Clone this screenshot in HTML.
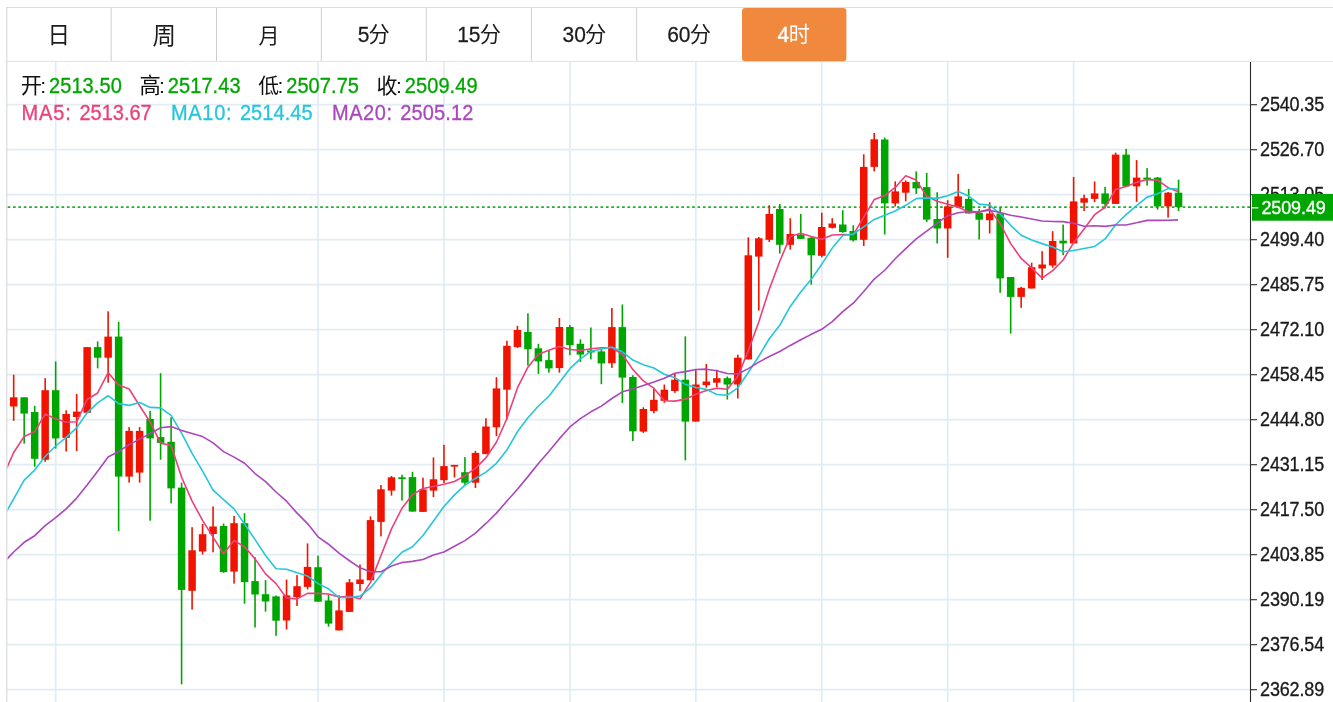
<!DOCTYPE html>
<html lang="zh"><head><meta charset="utf-8"><title>K线图</title>
<style>
html,body{margin:0;padding:0;background:#fff}
body{width:1333px;height:702px;overflow:hidden;position:relative;font-family:"Liberation Sans",sans-serif}
svg{position:absolute;left:0;top:0}
.ly{position:absolute;left:0;top:0;width:1333px;height:702px;will-change:transform}
.t{position:absolute;line-height:1;white-space:nowrap;font-family:"Liberation Sans",sans-serif}
</style></head><body>
<svg width="1333" height="702" viewBox="0 0 1333 702">
<g stroke="#e2ecf3" stroke-width="1.7" fill="none">
<line x1="7" y1="104.6" x2="1250.5" y2="104.6"/>
<line x1="7" y1="149.6" x2="1250.5" y2="149.6"/>
<line x1="7" y1="194.6" x2="1250.5" y2="194.6"/>
<line x1="7" y1="239.6" x2="1250.5" y2="239.6"/>
<line x1="7" y1="284.6" x2="1250.5" y2="284.6"/>
<line x1="7" y1="329.6" x2="1250.5" y2="329.6"/>
<line x1="7" y1="374.6" x2="1250.5" y2="374.6"/>
<line x1="7" y1="419.6" x2="1250.5" y2="419.6"/>
<line x1="7" y1="464.6" x2="1250.5" y2="464.6"/>
<line x1="7" y1="509.6" x2="1250.5" y2="509.6"/>
<line x1="7" y1="554.6" x2="1250.5" y2="554.6"/>
<line x1="7" y1="599.6" x2="1250.5" y2="599.6"/>
<line x1="7" y1="644.6" x2="1250.5" y2="644.6"/>
<line x1="7" y1="689.6" x2="1250.5" y2="689.6"/>
<line x1="55.66" y1="61.5" x2="55.66" y2="702"/>
<line x1="318.02" y1="61.5" x2="318.02" y2="702"/>
<line x1="443.95" y1="61.5" x2="443.95" y2="702"/>
<line x1="569.89" y1="61.5" x2="569.89" y2="702"/>
<line x1="695.82" y1="61.5" x2="695.82" y2="702"/>
<line x1="821.76" y1="61.5" x2="821.76" y2="702"/>
<line x1="947.69" y1="61.5" x2="947.69" y2="702"/>
<line x1="1073.62" y1="61.5" x2="1073.62" y2="702"/>
</g>
<line x1="7.6" y1="207.1" x2="1250.5" y2="207.1" stroke="#1db128" stroke-width="1.7" stroke-dasharray="2.7 2.69"/>
<g fill="#f01400">
<rect x="12.88" y="374.7" width="1.6" height="46.1"/>
<rect x="9.93" y="397.3" width="7.5" height="9.2"/>
<rect x="44.36" y="378.2" width="1.6" height="83.6"/>
<rect x="41.41" y="390.2" width="7.5" height="69.6"/>
<rect x="65.35" y="410.3" width="1.6" height="41.2"/>
<rect x="62.4" y="414" width="7.5" height="23.9"/>
<rect x="75.85" y="394" width="1.6" height="57"/>
<rect x="72.9" y="411.6" width="7.5" height="5.4"/>
<rect x="86.34" y="347.1" width="1.6" height="65.7"/>
<rect x="83.39" y="347.1" width="7.5" height="65.7"/>
<rect x="107.33" y="311.3" width="1.6" height="71.4"/>
<rect x="104.38" y="336.6" width="7.5" height="21.1"/>
<rect x="128.32" y="427.1" width="1.6" height="55.5"/>
<rect x="125.37" y="430.9" width="7.5" height="45.7"/>
<rect x="138.81" y="427.1" width="1.6" height="55.5"/>
<rect x="135.86" y="430.9" width="7.5" height="41.7"/>
<rect x="191.29" y="527.2" width="1.6" height="82.4"/>
<rect x="188.34" y="550.3" width="7.5" height="40.5"/>
<rect x="201.78" y="524" width="1.6" height="30.5"/>
<rect x="198.83" y="534.2" width="7.5" height="17.3"/>
<rect x="212.28" y="506.4" width="1.6" height="45.9"/>
<rect x="209.33" y="526.5" width="7.5" height="7.5"/>
<rect x="233.26" y="515.9" width="1.6" height="67.7"/>
<rect x="230.31" y="523.2" width="7.5" height="48.4"/>
<rect x="285.74" y="579.5" width="1.6" height="50"/>
<rect x="282.79" y="595.4" width="7.5" height="25.1"/>
<rect x="296.23" y="575.1" width="1.6" height="30.9"/>
<rect x="293.28" y="586.2" width="7.5" height="10.8"/>
<rect x="306.73" y="543.4" width="1.6" height="46"/>
<rect x="303.78" y="566.9" width="7.5" height="20"/>
<rect x="338.21" y="595.3" width="1.6" height="35.1"/>
<rect x="335.26" y="610.4" width="7.5" height="20"/>
<rect x="348.7" y="579" width="1.6" height="32.9"/>
<rect x="345.75" y="582.3" width="7.5" height="29.6"/>
<rect x="359.2" y="564.5" width="1.6" height="26.6"/>
<rect x="356.25" y="579.5" width="7.5" height="4.5"/>
<rect x="369.69" y="516.4" width="1.6" height="63.9"/>
<rect x="366.74" y="520.1" width="7.5" height="60.2"/>
<rect x="380.19" y="485" width="1.6" height="51.4"/>
<rect x="377.24" y="489.3" width="7.5" height="32.6"/>
<rect x="390.68" y="476" width="1.6" height="19.6"/>
<rect x="387.73" y="477.3" width="7.5" height="13.3"/>
<rect x="422.17" y="477.7" width="1.6" height="34.2"/>
<rect x="419.22" y="489.4" width="7.5" height="22.5"/>
<rect x="432.66" y="457.4" width="1.6" height="39.7"/>
<rect x="429.71" y="479.3" width="7.5" height="11.3"/>
<rect x="443.15" y="444.8" width="1.6" height="38.2"/>
<rect x="440.2" y="466.1" width="7.5" height="14.1"/>
<rect x="453.65" y="464.9" width="1.6" height="12.5"/>
<rect x="450.7" y="464.9" width="7.5" height="1.7"/>
<rect x="474.64" y="450.9" width="1.6" height="37.1"/>
<rect x="471.69" y="452.9" width="7.5" height="29.8"/>
<rect x="485.13" y="418.3" width="1.6" height="35.8"/>
<rect x="482.18" y="426.5" width="7.5" height="27.6"/>
<rect x="495.63" y="377.2" width="1.6" height="58.9"/>
<rect x="492.68" y="388.4" width="7.5" height="38.9"/>
<rect x="506.12" y="340.8" width="1.6" height="78.7"/>
<rect x="503.17" y="345.8" width="7.5" height="43.9"/>
<rect x="516.62" y="325.8" width="1.6" height="22.2"/>
<rect x="513.67" y="330" width="7.5" height="17.1"/>
<rect x="558.59" y="318" width="1.6" height="54.7"/>
<rect x="555.64" y="327" width="7.5" height="41.1"/>
<rect x="611.07" y="308" width="1.6" height="59.9"/>
<rect x="608.12" y="327.1" width="7.5" height="36.1"/>
<rect x="642.55" y="407.3" width="1.6" height="25.6"/>
<rect x="639.6" y="409" width="7.5" height="22.6"/>
<rect x="653.04" y="389" width="1.6" height="24.3"/>
<rect x="650.09" y="399.8" width="7.5" height="11.2"/>
<rect x="663.54" y="384.5" width="1.6" height="18.3"/>
<rect x="660.59" y="389.7" width="7.5" height="11.1"/>
<rect x="674.03" y="374" width="1.6" height="18.8"/>
<rect x="671.08" y="379.7" width="7.5" height="11.3"/>
<rect x="695.02" y="370.2" width="1.6" height="51.4"/>
<rect x="692.07" y="384.5" width="7.5" height="37.1"/>
<rect x="705.52" y="363.9" width="1.6" height="23.8"/>
<rect x="702.57" y="381.5" width="7.5" height="3.7"/>
<rect x="716.01" y="369.7" width="1.6" height="17.5"/>
<rect x="713.06" y="378.2" width="7.5" height="4.5"/>
<rect x="737" y="354.7" width="1.6" height="43.8"/>
<rect x="734.05" y="357.7" width="7.5" height="26.8"/>
<rect x="747.5" y="237.3" width="1.6" height="122.1"/>
<rect x="744.54" y="255.3" width="7.5" height="104.1"/>
<rect x="757.99" y="237" width="1.6" height="73.6"/>
<rect x="755.04" y="238.3" width="7.5" height="18.3"/>
<rect x="768.48" y="205.2" width="1.6" height="36.8"/>
<rect x="765.53" y="214" width="7.5" height="25.8"/>
<rect x="789.47" y="218.2" width="1.6" height="31.4"/>
<rect x="786.52" y="234" width="7.5" height="10.8"/>
<rect x="820.96" y="212.7" width="1.6" height="44.6"/>
<rect x="818.01" y="227" width="7.5" height="28.8"/>
<rect x="831.45" y="218.2" width="1.6" height="10.3"/>
<rect x="828.5" y="223.5" width="7.5" height="4.3"/>
<rect x="862.93" y="154.3" width="1.6" height="91.7"/>
<rect x="859.98" y="166.9" width="7.5" height="72.9"/>
<rect x="873.43" y="133" width="1.6" height="38.4"/>
<rect x="870.48" y="139.3" width="7.5" height="27.6"/>
<rect x="894.42" y="181.4" width="1.6" height="25.1"/>
<rect x="891.47" y="191.4" width="7.5" height="12"/>
<rect x="904.91" y="180.4" width="1.6" height="21"/>
<rect x="901.96" y="182" width="7.5" height="10.7"/>
<rect x="946.89" y="200.2" width="1.6" height="57.6"/>
<rect x="943.94" y="206.4" width="7.5" height="22.1"/>
<rect x="957.38" y="173.9" width="1.6" height="34.3"/>
<rect x="954.43" y="196.4" width="7.5" height="10.8"/>
<rect x="988.87" y="202.2" width="1.6" height="31.3"/>
<rect x="985.92" y="213.5" width="7.5" height="6.7"/>
<rect x="1020.35" y="286.8" width="1.6" height="21"/>
<rect x="1017.4" y="287.8" width="7.5" height="9.1"/>
<rect x="1030.85" y="262.7" width="1.6" height="25.8"/>
<rect x="1027.9" y="267.2" width="7.5" height="21.3"/>
<rect x="1041.34" y="251.2" width="1.6" height="28.8"/>
<rect x="1038.39" y="264.5" width="7.5" height="4"/>
<rect x="1051.84" y="231.2" width="1.6" height="36.5"/>
<rect x="1048.89" y="241" width="7.5" height="24.5"/>
<rect x="1072.82" y="176.9" width="1.6" height="66.6"/>
<rect x="1069.87" y="201.4" width="7.5" height="42.1"/>
<rect x="1083.32" y="194.7" width="1.6" height="16.3"/>
<rect x="1080.37" y="198.2" width="7.5" height="4.5"/>
<rect x="1093.81" y="181.4" width="1.6" height="20.8"/>
<rect x="1090.86" y="193.4" width="7.5" height="5.5"/>
<rect x="1114.8" y="152.6" width="1.6" height="51.3"/>
<rect x="1111.85" y="154.6" width="7.5" height="49.3"/>
<rect x="1135.79" y="160.1" width="1.6" height="41.8"/>
<rect x="1132.84" y="177.6" width="7.5" height="8.8"/>
<rect x="1167.28" y="192" width="1.6" height="25.7"/>
<rect x="1164.33" y="192.7" width="7.5" height="13.7"/>
</g>
<g fill="#00a600">
<rect x="23.37" y="397.3" width="1.6" height="46.3"/>
<rect x="20.42" y="397.3" width="7.5" height="16.3"/>
<rect x="33.87" y="405.8" width="1.6" height="61"/>
<rect x="30.92" y="412" width="7.5" height="46.8"/>
<rect x="54.86" y="361.4" width="1.6" height="87.2"/>
<rect x="51.91" y="390.2" width="7.5" height="48.2"/>
<rect x="96.84" y="341.4" width="1.6" height="27"/>
<rect x="93.89" y="347.1" width="7.5" height="10.6"/>
<rect x="117.83" y="321.8" width="1.6" height="209.2"/>
<rect x="114.88" y="336.6" width="7.5" height="140"/>
<rect x="149.31" y="411" width="1.6" height="109.7"/>
<rect x="146.36" y="419" width="7.5" height="19.4"/>
<rect x="159.8" y="373.2" width="1.6" height="86.5"/>
<rect x="156.85" y="437.1" width="7.5" height="5.8"/>
<rect x="170.3" y="417.3" width="1.6" height="86.1"/>
<rect x="167.35" y="441.8" width="7.5" height="46.6"/>
<rect x="180.79" y="482.6" width="1.6" height="201.8"/>
<rect x="177.84" y="487.6" width="7.5" height="102.3"/>
<rect x="222.77" y="523.5" width="1.6" height="49.3"/>
<rect x="219.82" y="526" width="7.5" height="46.1"/>
<rect x="243.76" y="513.2" width="1.6" height="90.5"/>
<rect x="240.81" y="523.2" width="7.5" height="58.9"/>
<rect x="254.25" y="557.2" width="1.6" height="70.3"/>
<rect x="251.3" y="581.1" width="7.5" height="13.4"/>
<rect x="264.75" y="580.1" width="1.6" height="31.5"/>
<rect x="261.8" y="594.2" width="7.5" height="7.3"/>
<rect x="275.24" y="595.5" width="1.6" height="40.3"/>
<rect x="272.29" y="596.4" width="7.5" height="24.3"/>
<rect x="317.22" y="555.6" width="1.6" height="46.1"/>
<rect x="314.27" y="567.2" width="7.5" height="34.5"/>
<rect x="327.72" y="594.9" width="1.6" height="31.8"/>
<rect x="324.77" y="600.5" width="7.5" height="23.1"/>
<rect x="401.18" y="474.7" width="1.6" height="25.9"/>
<rect x="398.23" y="477.3" width="7.5" height="1.7"/>
<rect x="411.67" y="471.8" width="1.6" height="39.8"/>
<rect x="408.72" y="477.1" width="7.5" height="34.5"/>
<rect x="464.14" y="457.1" width="1.6" height="27.9"/>
<rect x="461.19" y="472.2" width="7.5" height="10.5"/>
<rect x="527.11" y="313.3" width="1.6" height="52.3"/>
<rect x="524.16" y="332" width="7.5" height="17.3"/>
<rect x="537.61" y="343.8" width="1.6" height="30.1"/>
<rect x="534.65" y="348.3" width="7.5" height="13.1"/>
<rect x="548.1" y="350.1" width="1.6" height="22.6"/>
<rect x="545.15" y="360.1" width="7.5" height="8.3"/>
<rect x="569.09" y="325" width="1.6" height="30.1"/>
<rect x="566.14" y="327" width="7.5" height="18.1"/>
<rect x="579.58" y="339.3" width="1.6" height="22.6"/>
<rect x="576.63" y="343.8" width="7.5" height="10.8"/>
<rect x="590.08" y="327.5" width="1.6" height="31.9"/>
<rect x="587.13" y="350.5" width="7.5" height="2"/>
<rect x="600.57" y="348.8" width="1.6" height="35.4"/>
<rect x="597.62" y="351.4" width="7.5" height="12"/>
<rect x="621.56" y="304.5" width="1.6" height="98.5"/>
<rect x="618.61" y="327.1" width="7.5" height="50.5"/>
<rect x="632.06" y="375.2" width="1.6" height="65.9"/>
<rect x="629.11" y="377" width="7.5" height="54.3"/>
<rect x="684.53" y="336.4" width="1.6" height="124"/>
<rect x="681.58" y="379.7" width="7.5" height="41.9"/>
<rect x="726.51" y="376.5" width="1.6" height="23"/>
<rect x="723.56" y="378.2" width="7.5" height="6.3"/>
<rect x="778.98" y="204" width="1.6" height="49.6"/>
<rect x="776.03" y="209" width="7.5" height="35.8"/>
<rect x="799.97" y="214" width="1.6" height="24.9"/>
<rect x="797.02" y="234.6" width="7.5" height="4.3"/>
<rect x="810.46" y="237" width="1.6" height="47.6"/>
<rect x="807.51" y="237.8" width="7.5" height="17.5"/>
<rect x="841.95" y="210.2" width="1.6" height="22.6"/>
<rect x="839" y="224.5" width="7.5" height="7.5"/>
<rect x="852.44" y="225.3" width="1.6" height="16.2"/>
<rect x="849.49" y="231" width="7.5" height="9.3"/>
<rect x="883.92" y="137.5" width="1.6" height="97"/>
<rect x="880.97" y="139.5" width="7.5" height="63.9"/>
<rect x="915.41" y="171.4" width="1.6" height="22.5"/>
<rect x="912.46" y="182" width="7.5" height="6.4"/>
<rect x="925.9" y="172.9" width="1.6" height="49.1"/>
<rect x="922.95" y="187.1" width="7.5" height="32.5"/>
<rect x="936.4" y="192.2" width="1.6" height="51.3"/>
<rect x="933.45" y="219" width="7.5" height="9.5"/>
<rect x="967.88" y="188.9" width="1.6" height="24.6"/>
<rect x="964.93" y="198.9" width="7.5" height="14.6"/>
<rect x="978.37" y="208.9" width="1.6" height="30.6"/>
<rect x="975.42" y="212.7" width="7.5" height="7"/>
<rect x="999.36" y="207.2" width="1.6" height="85.6"/>
<rect x="996.41" y="213.5" width="7.5" height="64.9"/>
<rect x="1009.86" y="276.9" width="1.6" height="56.7"/>
<rect x="1006.91" y="277" width="7.5" height="19.9"/>
<rect x="1062.33" y="224.6" width="1.6" height="30.6"/>
<rect x="1059.38" y="240.7" width="7.5" height="2.7"/>
<rect x="1104.31" y="186.9" width="1.6" height="21.5"/>
<rect x="1101.36" y="193.4" width="7.5" height="10.5"/>
<rect x="1125.3" y="148.8" width="1.6" height="37.6"/>
<rect x="1122.35" y="154.6" width="7.5" height="31.8"/>
<rect x="1146.29" y="168.1" width="1.6" height="17.5"/>
<rect x="1143.34" y="177.6" width="7.5" height="1.8"/>
<rect x="1156.78" y="177" width="1.6" height="32.7"/>
<rect x="1153.83" y="177.6" width="7.5" height="28.8"/>
<rect x="1177.77" y="179.6" width="1.6" height="31.4"/>
<rect x="1174.82" y="192.7" width="7.5" height="14.3"/>
</g>
<clipPath id="cp"><rect x="7.5" y="61.5" width="1170.67" height="640.5"/></clipPath>
<g clip-path="url(#cp)" fill="none" stroke-width="1.6" stroke-linejoin="round" stroke-linecap="butt">
<polyline stroke="#ec407a" points="3.19,476 13.68,452.5 24.17,436.5 34.67,431.6 45.16,414.1 55.66,418.86 66.15,422.2 76.65,421.8 87.14,399.46 97.64,392.96 108.13,372.6 118.62,385.12 129.12,388.98 139.61,405.74 150.11,421.88 160.6,443.14 171.1,445.5 181.59,477.3 192.09,501.18 202.58,520.34 213.08,537.06 223.57,553.8 234.06,540.46 244.56,546.82 255.05,558.88 265.55,573.88 276.04,583.6 286.54,598.04 297.03,598.86 307.53,593.34 318.02,593.38 328.52,593.96 339.01,596.96 349.5,596.18 360,598.7 370.49,582.38 380.99,555.52 391.48,528.9 401.98,508.24 412.47,494.66 422.97,488.52 433.46,486.52 443.95,484.28 454.45,481.46 464.94,475.68 475.44,468.38 485.93,457.82 496.43,442.28 506.92,418.46 517.42,387.92 527.91,367.2 538.4,354.18 548.9,350.18 559.39,346.42 569.89,349.44 580.38,350.5 590.88,348.72 601.37,347.72 611.87,347.74 622.36,354.24 632.86,369.58 643.35,380.88 653.84,388.16 664.34,400.68 674.83,401.1 685.33,399.16 695.82,394.26 706.32,390.6 716.81,388.3 727.31,389.26 737.8,376.48 748.29,350.64 758.79,322 769.28,289.16 779.78,261.22 790.27,236.48 800.77,233.2 811.26,236.6 821.76,239.2 832.25,234.94 842.75,234.54 853.24,234.82 863.73,217.14 874.23,199.6 884.72,195.58 895.22,187.46 905.71,175.8 916.21,180.1 926.7,196.16 937.2,201.18 947.69,204.18 958.18,207.06 968.68,212.08 979.17,212.1 989.67,209.1 1000.16,223.5 1010.66,243.6 1021.15,258.46 1031.65,267.96 1042.14,278.16 1052.64,270.68 1063.13,259.98 1073.62,242.7 1084.12,228.9 1094.61,214.68 1105.11,207.26 1115.6,189.5 1126.1,186.5 1136.59,182.38 1147.09,179.58 1157.58,180.08 1168.08,187.7 1178.57,191.82"/>
<polyline stroke="#26c6da" points="3.19,517.5 13.68,498.8 24.17,480.1 34.67,470.1 45.16,456.5 55.66,446 66.15,437.4 76.65,427.8 87.14,412.8 97.64,402.8 108.13,395.73 118.62,403.66 129.12,405.39 139.61,402.6 150.11,407.42 160.6,407.87 171.1,415.31 181.59,433.14 192.09,453.46 202.58,471.11 213.08,490.1 223.57,499.65 234.06,508.88 244.56,524 255.05,539.61 265.55,555.47 276.04,568.7 286.54,569.25 297.03,572.84 307.53,576.11 318.02,583.63 328.52,588.78 339.01,597.5 349.5,597.52 360,596.02 370.49,587.88 380.99,574.74 391.48,562.93 401.98,552.21 412.47,546.68 422.97,535.45 433.46,521.02 443.95,506.59 454.45,494.85 464.94,485.17 475.44,478.45 485.93,472.17 496.43,463.28 506.92,449.96 517.42,431.8 527.91,417.79 538.4,406 548.9,396.23 559.39,382.44 569.89,368.68 580.38,358.85 590.88,351.45 601.37,348.95 611.87,347.08 622.36,351.84 632.86,360.04 643.35,364.8 653.84,367.94 664.34,374.21 674.83,377.67 685.33,384.37 695.82,387.57 706.32,389.38 716.81,394.49 727.31,395.18 737.8,387.82 748.29,372.45 758.79,356.3 769.28,338.73 779.78,325.24 790.27,306.48 800.77,291.92 811.26,279.3 821.76,264.18 832.25,248.08 842.75,235.51 853.24,234.01 863.73,226.87 874.23,219.4 884.72,215.26 895.22,211 905.71,205.31 916.21,198.62 926.7,197.88 937.2,198.38 947.69,195.82 958.18,191.43 968.68,196.09 979.17,204.13 989.67,205.14 1000.16,213.84 1010.66,225.33 1021.15,235.27 1031.65,240.03 1042.14,243.63 1052.64,247.09 1063.13,251.79 1073.62,250.58 1084.12,248.43 1094.61,246.42 1105.11,238.97 1115.6,224.74 1126.1,214.6 1136.59,205.64 1147.09,197.13 1157.58,193.67 1168.08,188.6 1178.57,189.16"/>
<polyline stroke="#ab47bc" points="3.19,563 13.68,552 24.17,542.3 34.67,535.7 45.16,525.7 55.66,517.7 66.15,508.9 76.65,498.1 87.14,485.1 97.64,471.3 108.13,457 118.62,451.5 129.12,444.6 139.61,439.1 150.11,433.6 160.6,427.8 171.1,426.6 181.59,430.4 192.09,433.6 202.58,436.6 213.08,442.91 223.57,451.66 234.06,457.14 244.56,463.3 255.05,473.51 265.55,481.67 276.04,492 286.54,501.19 297.03,513.15 307.53,523.61 318.02,536.87 328.52,544.22 339.01,553.19 349.5,560.76 360,567.82 370.49,571.68 380.99,571.72 391.48,566.09 401.98,562.53 412.47,561.39 422.97,559.54 433.46,554.9 443.95,552.05 454.45,546.19 464.94,540.6 475.44,533.16 485.93,523.46 496.43,513.11 506.92,501.09 517.42,489.24 527.91,476.62 538.4,463.51 548.9,451.41 559.39,438.64 569.89,426.93 580.38,418.65 590.88,411.81 601.37,406.12 611.87,398.52 622.36,391.82 632.86,388.92 643.35,385.4 653.84,382.08 664.34,378.32 674.83,373.18 685.33,371.61 695.82,369.51 706.32,369.17 716.81,370.78 727.31,373.51 737.8,373.93 748.29,368.62 758.79,362.12 769.28,356.47 779.78,351.45 790.27,345.43 800.77,339.74 811.26,334.34 821.76,329.33 832.25,321.63 842.75,311.67 853.24,303.23 863.73,291.58 874.23,279.06 884.72,270.25 895.22,258.74 905.71,248.62 916.21,238.96 926.7,231.03 937.2,223.23 947.69,215.66 958.18,212.72 968.68,211.48 979.17,211.76 989.67,210.2 1000.16,212.42 1010.66,215.32 1021.15,216.94 1031.65,218.96 1042.14,221 1052.64,221.46 1063.13,221.61 1073.62,223.33 1084.12,226.28 1094.61,225.78 1105.11,226.41 1115.6,225.03 1126.1,224.93 1136.59,222.83 1147.09,220.38 1157.58,220.38 1168.08,220.19 1178.57,219.87"/>
</g>
<g stroke="#dcdcdc" stroke-width="1" fill="none">
<line x1="6.3" y1="7.5" x2="1333" y2="7.5"/>
<line x1="6.3" y1="61.4" x2="1333" y2="61.4" stroke="#e2e2e2"/>
<line x1="6.8" y1="7" x2="6.8" y2="702" stroke="#d3d3d3"/>
<line x1="111.2" y1="8" x2="111.2" y2="61" stroke="#cfcfcf"/>
<line x1="216.5" y1="8" x2="216.5" y2="61" stroke="#cfcfcf"/>
<line x1="321.3" y1="8" x2="321.3" y2="61" stroke="#cfcfcf"/>
<line x1="426.3" y1="8" x2="426.3" y2="61" stroke="#cfcfcf"/>
<line x1="531.4" y1="8" x2="531.4" y2="61" stroke="#cfcfcf"/>
<line x1="636.7" y1="8" x2="636.7" y2="61" stroke="#cfcfcf"/>
</g>
<rect x="742" y="8" width="104.4" height="53.3" rx="3.2" fill="#f0883e"/>
<rect x="1251" y="61.9" width="82.5" height="640.5" fill="#fff"/>
<line x1="1250.5" y1="61.9" x2="1250.5" y2="702" stroke="#2b2b2b" stroke-width="1.1"/>
<g stroke="#2b2b2b" stroke-width="1.1">
<line x1="1250.5" y1="104.7" x2="1257" y2="104.7"/>
<line x1="1250.5" y1="149.7" x2="1257" y2="149.7"/>
<line x1="1250.5" y1="194.7" x2="1257" y2="194.7"/>
<line x1="1250.5" y1="239.7" x2="1257" y2="239.7"/>
<line x1="1250.5" y1="284.7" x2="1257" y2="284.7"/>
<line x1="1250.5" y1="329.7" x2="1257" y2="329.7"/>
<line x1="1250.5" y1="374.7" x2="1257" y2="374.7"/>
<line x1="1250.5" y1="419.7" x2="1257" y2="419.7"/>
<line x1="1250.5" y1="464.7" x2="1257" y2="464.7"/>
<line x1="1250.5" y1="509.7" x2="1257" y2="509.7"/>
<line x1="1250.5" y1="554.7" x2="1257" y2="554.7"/>
<line x1="1250.5" y1="599.7" x2="1257" y2="599.7"/>
<line x1="1250.5" y1="644.7" x2="1257" y2="644.7"/>
<line x1="1250.5" y1="689.7" x2="1257" y2="689.7"/>
</g>
</svg>
<div class="ly" id="axis-labels">
<span class="t " style="left:1260.1px;top:95.66px;font-size:18px;color:#1a1a1a;letter-spacing:-0.17px;transform:scaleY(1.08);transform-origin:0 84.65%;-webkit-text-stroke:0.3px #1a1a1a;">2540.35</span>
<span class="t " style="left:1260.1px;top:140.66px;font-size:18px;color:#1a1a1a;letter-spacing:-0.17px;transform:scaleY(1.08);transform-origin:0 84.65%;-webkit-text-stroke:0.3px #1a1a1a;">2526.70</span>
<span class="t " style="left:1260.1px;top:185.66px;font-size:18px;color:#1a1a1a;letter-spacing:-0.17px;transform:scaleY(1.08);transform-origin:0 84.65%;-webkit-text-stroke:0.3px #1a1a1a;">2513.05</span>
<span class="t " style="left:1260.1px;top:230.66px;font-size:18px;color:#1a1a1a;letter-spacing:-0.17px;transform:scaleY(1.08);transform-origin:0 84.65%;-webkit-text-stroke:0.3px #1a1a1a;">2499.40</span>
<span class="t " style="left:1260.1px;top:275.66px;font-size:18px;color:#1a1a1a;letter-spacing:-0.17px;transform:scaleY(1.08);transform-origin:0 84.65%;-webkit-text-stroke:0.3px #1a1a1a;">2485.75</span>
<span class="t " style="left:1260.1px;top:320.66px;font-size:18px;color:#1a1a1a;letter-spacing:-0.17px;transform:scaleY(1.08);transform-origin:0 84.65%;-webkit-text-stroke:0.3px #1a1a1a;">2472.10</span>
<span class="t " style="left:1260.1px;top:365.66px;font-size:18px;color:#1a1a1a;letter-spacing:-0.17px;transform:scaleY(1.08);transform-origin:0 84.65%;-webkit-text-stroke:0.3px #1a1a1a;">2458.45</span>
<span class="t " style="left:1260.1px;top:410.66px;font-size:18px;color:#1a1a1a;letter-spacing:-0.17px;transform:scaleY(1.08);transform-origin:0 84.65%;-webkit-text-stroke:0.3px #1a1a1a;">2444.80</span>
<span class="t " style="left:1260.1px;top:455.66px;font-size:18px;color:#1a1a1a;letter-spacing:-0.17px;transform:scaleY(1.08);transform-origin:0 84.65%;-webkit-text-stroke:0.3px #1a1a1a;">2431.15</span>
<span class="t " style="left:1260.1px;top:500.66px;font-size:18px;color:#1a1a1a;letter-spacing:-0.17px;transform:scaleY(1.08);transform-origin:0 84.65%;-webkit-text-stroke:0.3px #1a1a1a;">2417.50</span>
<span class="t " style="left:1260.1px;top:545.66px;font-size:18px;color:#1a1a1a;letter-spacing:-0.17px;transform:scaleY(1.08);transform-origin:0 84.65%;-webkit-text-stroke:0.3px #1a1a1a;">2403.85</span>
<span class="t " style="left:1260.1px;top:590.66px;font-size:18px;color:#1a1a1a;letter-spacing:-0.17px;transform:scaleY(1.08);transform-origin:0 84.65%;-webkit-text-stroke:0.3px #1a1a1a;">2390.19</span>
<span class="t " style="left:1260.1px;top:635.66px;font-size:18px;color:#1a1a1a;letter-spacing:-0.17px;transform:scaleY(1.08);transform-origin:0 84.65%;-webkit-text-stroke:0.3px #1a1a1a;">2376.54</span>
<span class="t " style="left:1260.1px;top:680.66px;font-size:18px;color:#1a1a1a;letter-spacing:-0.17px;transform:scaleY(1.08);transform-origin:0 84.65%;-webkit-text-stroke:0.3px #1a1a1a;">2362.89</span>
</div>
<svg width="1333" height="702" viewBox="0 0 1333 702">
<rect x="1252" y="194" width="81" height="26.7" fill="#00a600"/><line x1="1252" y1="207.8" x2="1258.4" y2="207.8" stroke="#fff" stroke-width="1.3"/>
<g font-family="'Liberation Sans','Noto Sans CJK SC',sans-serif">
<text x="47.6" y="42.5" font-size="22.5" fill="#1c1c1c">日</text>
<text x="152.6" y="43.6" font-size="23.5" fill="#1c1c1c">周</text>
<text x="258.6" y="42.7" font-size="21" fill="#1c1c1c">月</text>
<text x="368.6" y="42.4" font-size="21.25" fill="#1c1c1c">分</text>
<text x="479.7" y="42.4" font-size="21.25" fill="#1c1c1c">分</text>
<text x="585" y="42.4" font-size="21.25" fill="#1c1c1c">分</text>
<text x="689.8" y="42.4" font-size="21.25" fill="#1c1c1c">分</text>
<text x="788.8" y="41.8" font-size="21.2" fill="#fff">时</text>
<text x="20.75" y="93.2" font-size="21.25" fill="#111">开</text>
<text x="139.4" y="93.3" font-size="21.3" fill="#111">高</text>
<text x="258.3" y="92.8" font-size="20.8" fill="#111">低</text>
<text x="376.5" y="92.7" font-size="20.9" fill="#111">收</text>
</g>
</svg>
<div class="ly" id="texts">
<span class="t " style="right:963.6px;top:23.82px;font-size:21px;color:#1c1c1c;transform:scaleY(1.08);transform-origin:0 84.65%;-webkit-text-stroke:0.25px #1c1c1c;">5</span>
<span class="t " style="right:852.5px;top:23.82px;font-size:21px;color:#1c1c1c;transform:scaleY(1.08);transform-origin:0 84.65%;-webkit-text-stroke:0.25px #1c1c1c;">15</span>
<span class="t " style="right:747.2px;top:23.82px;font-size:21px;color:#1c1c1c;transform:scaleY(1.08);transform-origin:0 84.65%;-webkit-text-stroke:0.25px #1c1c1c;">30</span>
<span class="t " style="right:642.5px;top:23.82px;font-size:21px;color:#1c1c1c;transform:scaleY(1.08);transform-origin:0 84.65%;-webkit-text-stroke:0.25px #1c1c1c;">60</span>
<span class="t " style="right:543.9px;top:23.82px;font-size:21px;color:#fff;transform:scaleY(1.08);transform-origin:0 84.65%;-webkit-text-stroke:0.35px #fff;">4</span>
<span class="t " style="left:40.2px;top:75.22px;font-size:21px;color:#111;">:</span>
<span class="t " style="left:49px;top:75.77px;font-size:20px;color:#00a600;letter-spacing:0.08px;transform:scaleY(1.11);transform-origin:0 84.65%;-webkit-text-stroke:0.3px #00a600;">2513.50</span>
<span class="t " style="left:159.1px;top:75.22px;font-size:21px;color:#111;">:</span>
<span class="t " style="left:167.8px;top:75.77px;font-size:20px;color:#00a600;letter-spacing:0.08px;transform:scaleY(1.11);transform-origin:0 84.65%;-webkit-text-stroke:0.3px #00a600;">2517.43</span>
<span class="t " style="left:277.4px;top:75.22px;font-size:21px;color:#111;">:</span>
<span class="t " style="left:286.2px;top:75.77px;font-size:20px;color:#00a600;letter-spacing:0.08px;transform:scaleY(1.11);transform-origin:0 84.65%;-webkit-text-stroke:0.3px #00a600;">2507.75</span>
<span class="t " style="left:395.9px;top:75.22px;font-size:21px;color:#111;">:</span>
<span class="t " style="left:404.8px;top:75.77px;font-size:20px;color:#00a600;letter-spacing:0.08px;transform:scaleY(1.11);transform-origin:0 84.65%;-webkit-text-stroke:0.3px #00a600;">2509.49</span>
<span class="t " style="left:21.4px;top:102.87px;font-size:20px;color:#ec407a;letter-spacing:0.9px;transform:scaleY(1.06);transform-origin:0 84.65%;-webkit-text-stroke:0.3px #ec407a;">MA5:</span>
<span class="t " style="left:79.4px;top:102.87px;font-size:20px;color:#ec407a;transform:scaleY(1.06);transform-origin:0 84.65%;-webkit-text-stroke:0.3px #ec407a;">2513.67</span>
<span class="t " style="left:171px;top:102.87px;font-size:20px;color:#26c6da;letter-spacing:0.68px;transform:scaleY(1.06);transform-origin:0 84.65%;-webkit-text-stroke:0.3px #26c6da;">MA10:</span>
<span class="t " style="left:239.9px;top:102.87px;font-size:20px;color:#26c6da;letter-spacing:0.08px;transform:scaleY(1.06);transform-origin:0 84.65%;-webkit-text-stroke:0.3px #26c6da;">2514.45</span>
<span class="t " style="left:332px;top:102.87px;font-size:20px;color:#ab47bc;letter-spacing:0.55px;transform:scaleY(1.06);transform-origin:0 84.65%;-webkit-text-stroke:0.3px #ab47bc;">MA20:</span>
<span class="t " style="left:400.2px;top:102.87px;font-size:20px;color:#ab47bc;letter-spacing:0.14px;transform:scaleY(1.06);transform-origin:0 84.65%;-webkit-text-stroke:0.3px #ab47bc;">2505.12</span>
<span class="t " style="left:1261.4px;top:199.06px;font-size:18px;color:#fff;letter-spacing:-0.1px;transform:scaleY(1.03);transform-origin:0 84.65%;-webkit-text-stroke:0.3px #fff;">2509.49</span>
</div>
</body></html>
